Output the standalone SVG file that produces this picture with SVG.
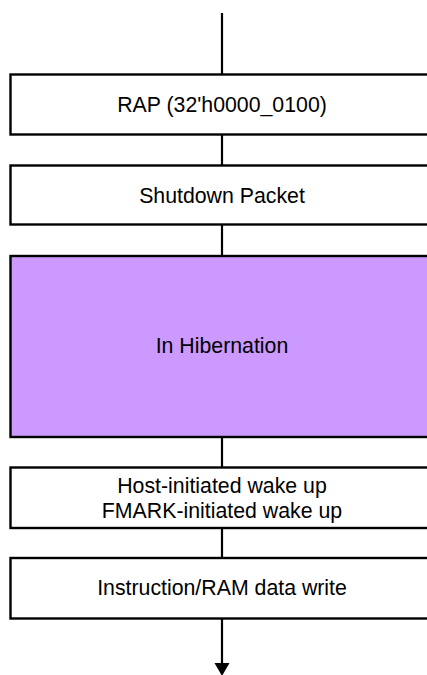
<svg xmlns="http://www.w3.org/2000/svg" width="427" height="675" viewBox="0 0 427 675">
<defs>
<style>
.box{fill:#ffffff;stroke:#000000;stroke-width:2.4}
.hib{fill:#cc99ff;stroke:#000000;stroke-width:2.4}
.lbl{font-family:"Liberation Sans",Arial,sans-serif;font-size:21.3px;fill:#000000;text-anchor:middle}
.conn{stroke:#000000;stroke-width:2.2;fill:none}
</style>
</defs>
<rect width="427" height="675" fill="#ffffff"/>
<g id="connectors">
<line class="conn" x1="222" y1="13" x2="222" y2="74.5"/>
<line class="conn" x1="222" y1="134.5" x2="222" y2="165.5"/>
<line class="conn" x1="222" y1="224.5" x2="222" y2="256"/>
<line class="conn" x1="222" y1="437" x2="222" y2="467.5"/>
<line class="conn" x1="222" y1="528" x2="222" y2="558"/>
<line class="conn" x1="222" y1="618.5" x2="222" y2="664"/>
<polygon points="214.5,663 229.5,663 222,676" fill="#000000"/>
</g>
<g id="node-rap">
<rect class="box" x="10.5" y="74.5" width="423" height="60"/>
<text class="lbl" x="222" y="111.5">RAP (32'h0000_0100)</text>
</g>
<g id="node-shutdown">
<rect class="box" x="10.5" y="165.5" width="423" height="59"/>
<text class="lbl" x="222" y="202.5">Shutdown Packet</text>
</g>
<g id="node-hibernation">
<rect class="hib" x="10.5" y="256" width="423" height="181"/>
<text class="lbl" x="222" y="353">In Hibernation</text>
</g>
<g id="node-wakeup">
<rect class="box" x="10.5" y="467.5" width="423" height="60.5"/>
<text class="lbl" x="222" y="492.5">Host-initiated wake up</text>
<text class="lbl" x="222" y="518">FMARK-initiated wake up</text>
</g>
<g id="node-write">
<rect class="box" x="10.5" y="558" width="423" height="60.5"/>
<text class="lbl" x="222" y="595">Instruction/RAM data write</text>
</g>
</svg>
